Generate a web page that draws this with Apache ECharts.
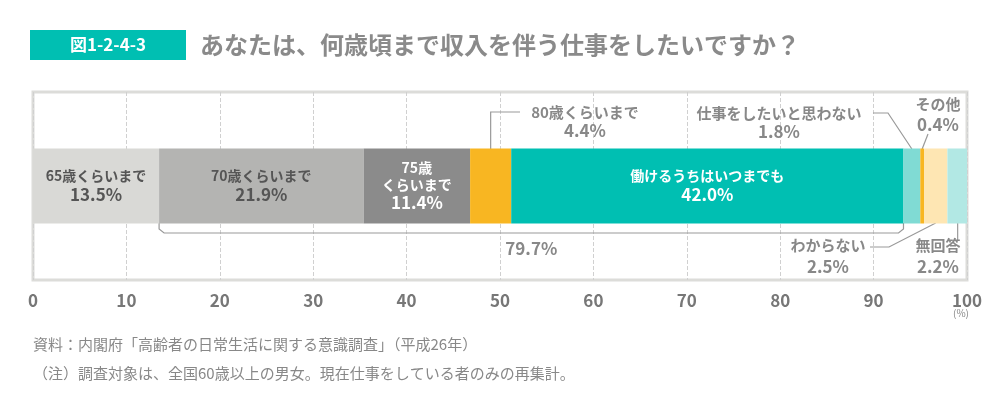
<!DOCTYPE html>
<html><head><meta charset="utf-8">
<script src="https://cdn.jsdelivr.net/npm/echarts@6/dist/echarts.min.js"></script>
<style>html,body{margin:0;padding:0;background:#fff}#c{width:1000px;height:412px}</style>
</head><body><div id="c"></div>
<script>
const categories = ['65歳くらいまで','70歳くらいまで','75歳くらいまで','80歳くらいまで','働けるうちはいつまでも','仕事をしたいと思わない','その他','わからない','無回答'];
const values = [13.5, 21.9, 11.4, 4.4, 42.0, 1.8, 0.4, 2.5, 2.2];
const colors = ['#d9d9d6','#b4b4b2','#8b8b8b','#f8b622','#00bfb2','#80dbd4','#f8b622','#fee6b3','#b2e8e4'];
const tickLabels = ['0','10','20','30','40','50','60','70','80','90','100'];
const bracketValue = '79.7%';
const FONT = '"Noto Sans CJK JP","Noto Sans",sans-serif';
(function(){
const chart = echarts.init(document.getElementById('c'));
const inner = {0:{t:'65歳くらいまで\n',c:'#555'},1:{t:'70歳くらいまで\n',c:'#555'},2:{t:'75歳\nくらいまで\n',c:'#fff'},4:{t:'働けるうちはいつまでも\n',c:'#fff'}};
const series = values.map((v,i)=>({
  name: categories[i], type:'bar', stack:'a', barWidth:75, data:[v],
  itemStyle:{color:colors[i]},
  label: inner[i] ? {show:true, position:'inside', color:inner[i].c, fontFamily:FONT, lineHeight:18,
    formatter: ()=> inner[i].t.split('\n').filter(s=>s).map(s=>'{a|'+s+'}').join('\n')+'\n{b|'+v.toFixed(1)+'%}',
    rich:{a:{fontSize:14,fontWeight:'bold',color:inner[i].c,fontFamily:FONT,lineHeight:17},b:{fontSize:17,fontWeight:'bold',color:inner[i].c,fontFamily:FONT,lineHeight:20}}} : {show:false}
}));
chart.setOption({
  animation:false,
  grid:{left:33,right:33,top:92,bottom:132,show:true,borderColor:'#dcdcd9',borderWidth:3},
  xAxis:{type:'value',min:0,max:100,interval:10,axisLine:{show:false},axisTick:{show:false},
    splitLine:{lineStyle:{type:'dashed',color:'#d0d0d0'}},
    axisLabel:{formatter:(v)=>tickLabels[Math.round(v/10)],color:'#777',fontSize:17,fontFamily:FONT,margin:12,fontWeight:'bold'}},
  yAxis:{type:'category',data:['x'],show:false},
  series
});

const px = v => chart.convertToPixel({xAxisIndex:0}, v);
const cy = chart.convertToPixel({yAxisIndex:0}, 'x');
const barTop = cy-37, barBot = cy+37;
const cum = []; values.reduce((s,v,i)=>{cum[i]=s;return s+v;},0);
const mid = i => px(cum[i]+values[i]/2);
const gray='#888', lineC='#999';
const txt=(x,y,s,opt={})=>({type:'text',x,y,style:Object.assign({text:s,fill:gray,font:'bold 16px '+FONT,align:'center',verticalAlign:'middle'},opt)});
const line=(pts)=>({type:'polyline',shape:{points:pts},style:{stroke:lineC,lineWidth:1.2,fill:null}});
const g=[
  {type:'rect',shape:{x:30,y:30,width:156,height:30},style:{fill:'#00bfb2'}},
  txt(108,45,'図1-2-4-3',{fill:'#fff',font:'bold 17px '+FONT}),
  txt(200,45,'あなたは、何歳頃まで収入を伴う仕事をしたいですか？',{fill:'#8a8a8a',font:'bold 24px '+FONT,align:'left'}),
  txt(33,344,'資料：内閣府「高齢者の日常生活に関する意識調査」（平成26年）',{fill:'#888',font:'15px '+FONT,align:'left'}),
  txt(33,373,'（注）調査対象は、全国60歳以上の男女。現在仕事をしている者のみの再集計。',{fill:'#888',font:'15px '+FONT,align:'left'}),
  txt(px(100)-6,313,'(%)',{fill:'#888',font:'10px '+FONT}),
  line([[px(cum[1]),barBot],[px(cum[1]),barBot+6],[px(cum[1])+5,barBot+10],[px(cum[5])-5,barBot+10],[px(cum[5]),barBot+6],[px(cum[5]),barBot]]),
  txt((px(cum[1])+px(cum[5]))/2,barBot+26,bracketValue,{font:'bold 17px '+FONT}),
  line([[mid(3),barTop],[mid(3),112],[520,112]]),
  txt(585,112,'80歳くらいまで',{font:'bold 15px '+FONT}), txt(585,131,values[3].toFixed(1)+'%',{font:'bold 17px '+FONT}),
  line([[873,113],[888,113],[mid(5),barTop]]),
  txt(779,113,categories[5],{font:'bold 15px '+FONT}), txt(779,132,values[5].toFixed(1)+'%',{font:'bold 17px '+FONT}),
  line([[mid(6),barTop],[928,134]]),
  txt(938,104,categories[6],{font:'bold 15px '+FONT}), txt(938,125,values[6].toFixed(1)+'%',{font:'bold 17px '+FONT}),
  line([[870,247],[889,247],[mid(7),barBot]]),
  txt(828,245,categories[7],{font:'bold 15px '+FONT}), txt(828,267,values[7].toFixed(1)+'%',{font:'bold 17px '+FONT}),
  line([[mid(8),barBot],[mid(8),240]]),
  txt(938,245,categories[8],{font:'bold 15px '+FONT}), txt(938,267,values[8].toFixed(1)+'%',{font:'bold 17px '+FONT})
];
chart.setOption({graphic:g});
})();
</script></body></html>
